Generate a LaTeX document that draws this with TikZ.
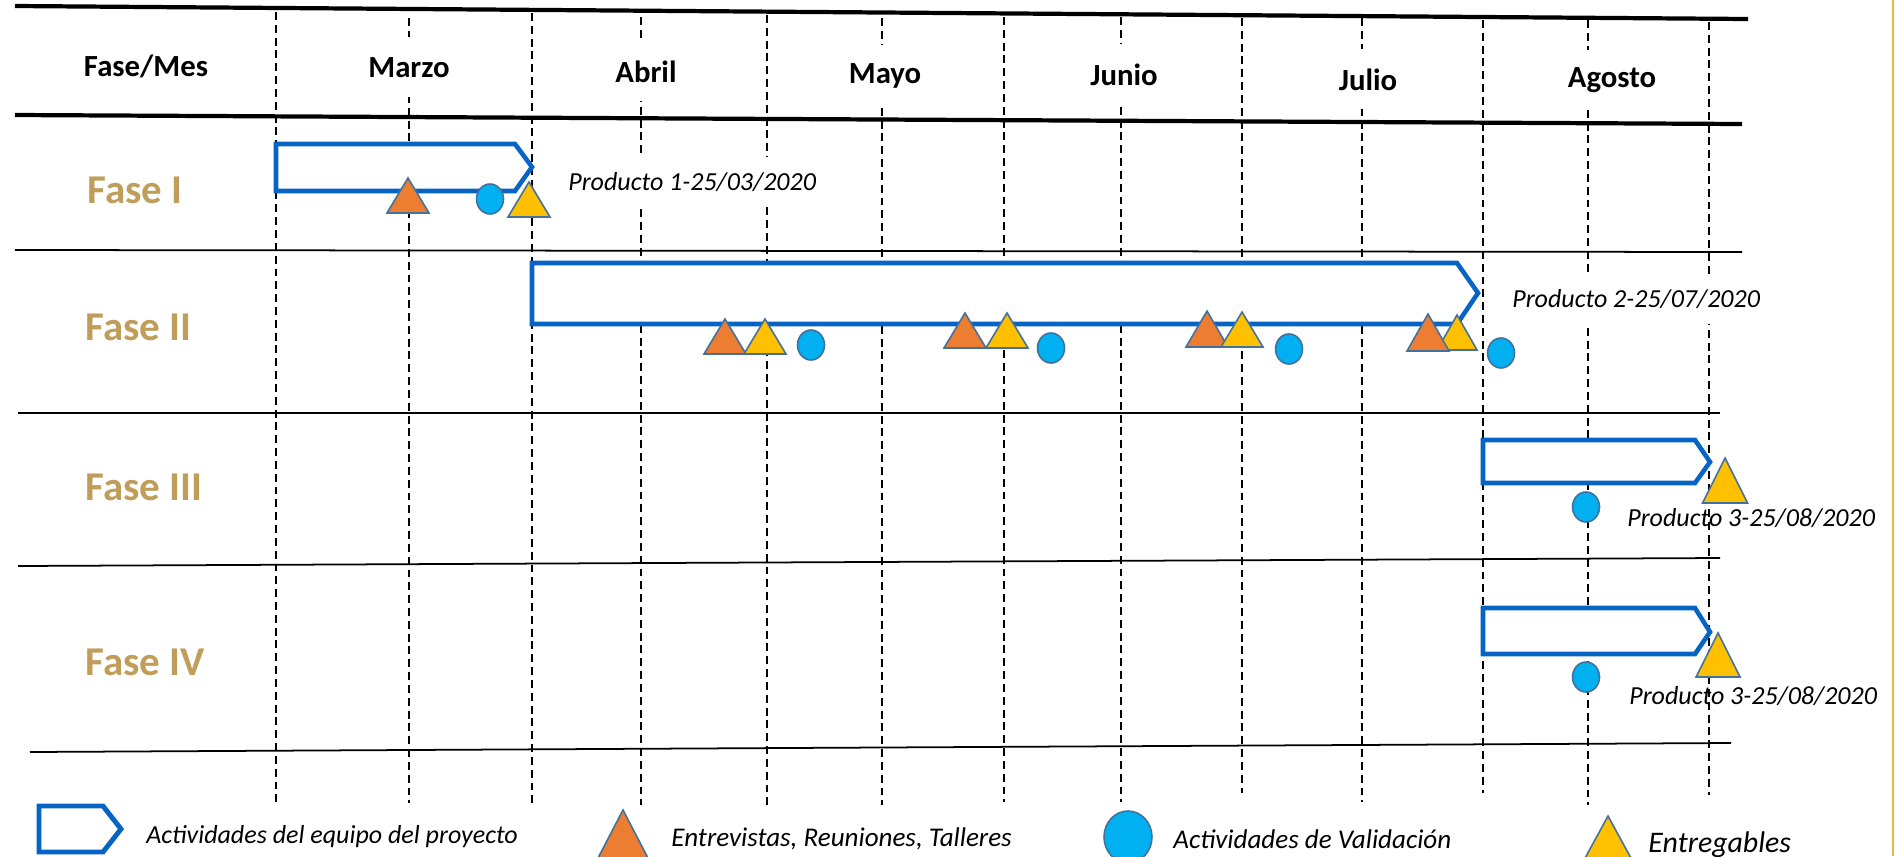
\documentclass[tikz,border=0pt]{standalone}
\usepackage{fontspec}
\setmainfont{Carlito}
\usepackage{tikz}
\usetikzlibrary{positioning}

\definecolor{azul}{RGB}{6,101,196}
\definecolor{naranja}{RGB}{237,125,49}
\definecolor{amarillo}{RGB}{255,192,0}
\definecolor{celeste}{RGB}{0,176,240}
\definecolor{borde}{RGB}{65,113,156}
\definecolor{oro}{RGB}{192,158,90}
\definecolor{marco}{RGB}{242,178,66}

\begin{document}
\begin{tikzpicture}[x=0.02cm, y=-0.02cm,
    grueso/.style={black, line width=2.4pt},
    fino/.style={black, line width=1pt},
    guia/.style={black, line width=0.8pt, dash pattern=on 4.5pt off 2.8pt},
    barra/.style={%
      draw=azul, line width=2.6pt, fill=white, line join=miter
    },
    ent/.style={fill=naranja, draw=borde, line width=0.9pt},
    pro/.style={fill=amarillo, draw=borde, line width=0.9pt},
    val/.style={fill=celeste, draw=borde, line width=0.9pt},
    mes/.style={%
      font=\fontsize{17.5}{20}\selectfont\bfseries, fill=white,
      minimum height=1.2cm, inner xsep=3pt, anchor=base
    },
    fase/.style={%
      font=\fontsize{23.3}{27}\selectfont\bfseries, text=oro,
      inner sep=0pt, anchor=base west
    },
    prod/.style={%
      font=\fontsize{14.8}{17}\selectfont\itshape, inner sep=0pt, anchor=base west
    },
    ley/.style={font=\fontsize{14.8}{17}\selectfont\itshape, inner sep=0pt}
]
    \useasboundingbox (0,0) rectangle (1895,856);
    \fill[white] (0,0) rectangle (1895,856);
    \clip (0,0) rectangle (1895,856);

    % columnas
    \foreach \x/\a/\b in {276/12/805, 409/18/803, 532/13/805, 641/17/805,
        767/15/805, 882/18/805, 1004/17/802, 1121/17/802, 1242/18/793,
        1362/18/802, 1483/20/793, 1588/20/805, 1709/22/795}
      \draw[guia] (\x,\a) -- (\x,\b);

    % filas
    \draw[grueso] (15,6) -- (1748,19);
    \draw[grueso] (15,115) -- (1742,124);
    \draw[fino] (15,250) -- (1742,252);
    \draw[fino] (18,413) -- (1720,413);
    \draw[fino] (18,566) -- (1720,558);
    \draw[fino] (30,752) -- (1731,743);

    \draw[marco, line width=1.2pt] (1893,0) -- (1893,856);

    \node[mes] (m0) at (146,76)  {Fase/Mes};
    \node[mes] (m1) at (409,77)  {Marzo};
    \node[mes] (m2) at (646,82)  {Abril};
    \node[mes] (m3) at (885,83)  {Mayo};
    \node[mes] (m4) at (1124,85) {Junio};
    \node[mes] (m5) at (1368,90) {Julio};
    \node[mes] (m6) at (1612,87) {Agosto};

    \node[fase] (f1) at (87,203) {Fase I};
    \node[fase] (f2) at (85,340) {Fase II};
    \node[fase] (f3) at (85,500) {Fase III};
    \node[fase] (f4) at (85,675) {Fase IV};

    \node[prod, fill=white, inner ysep=4pt, minimum height=1cm] (p1) at (568,190)
      {Producto 1-25/03/2020};
    \node[prod, fill=white, inner ysep=4pt, minimum height=1cm] (p2) at (1512,307)
      {Producto 2-25/07/2020};
    \node[prod] (p3) at (1627,526) {Producto 3-25/08/2020};
    \node[prod] (p4) at (1629,704) {Producto 3-25/08/2020};

    % barras
    \draw[barra] (276,144) -- (515,144) -- (532,167) -- (515,191) -- (276,191) -- cycle;
    \draw[barra] (532,263) -- (1457,263) -- (1478,293) -- (1457,324) -- (532,324) -- cycle;
    \draw[barra] (1483,440) -- (1695,440) -- (1710,462) -- (1695,483) -- (1483,483) -- cycle;
    \draw[barra] (1483,608) -- (1695,608) -- (1710,632) -- (1695,654) -- (1483,654) -- cycle;

    % hitos
    \foreach \x/\y/\w/\h in {408/178/42/35, 725/319/42/35, 965/313/42/35,
        1207/311/42/36}
      \filldraw[ent] (\x,\y) -- ++(\w/2,\h) -- ++(-\w,0) -- cycle;
    \foreach \x/\y/\w/\h in {529/182/42/35, 765/319/42/35, 1007/313/42/35,
        1242/312/42/35, 1457/315/40/35, 1725/458/45/45, 1718/633/44/44}
      \filldraw[pro] (\x,\y) -- ++(\w/2,\h) -- ++(-\w,0) -- cycle;
    \filldraw[ent] (1428,314) -- ++(21,37) -- ++(-42,0) -- cycle;
    \foreach \x/\y in {490/199, 811/345, 1051/348, 1289/349, 1501/353,
        1586/507, 1586/677}
      \filldraw[val] (\x,\y) ellipse [x radius=13.5, y radius=15];

    % leyenda
    \draw[barra, line width=2.8pt] (39,806) -- (103,806) -- (121,829) -- (103,852) -- (39,852) -- cycle;
    \filldraw[ent] (623,810) -- ++(25,48) -- ++(-50,0) -- cycle;
    \filldraw[val] (1128,837) ellipse [x radius=24, y radius=26];
    \filldraw[pro] (1608,816) -- ++(24,44) -- ++(-48,0) -- cycle;

    \coordinate (l1) at (121,843);
    \coordinate (l2) at (648,846);
    \coordinate (l3) at (1150,848);
    \coordinate (l4) at (1625,852);
    \node[ley, right=0.5cm of l1, anchor=base west] (t1) {Actividades del equipo del proyecto};
    \node[ley, right=0.46cm of l2, anchor=base west, font=\fontsize{15.4}{18}\selectfont\itshape] (t2)
      {Entrevistas, Reuniones, Talleres};
    \node[ley, right=0.46cm of l3, anchor=base west, font=\fontsize{15.4}{18}\selectfont\itshape] (t3)
      {Actividades de Validación};
    \node[ley, right=0.46cm of l4, anchor=base west, font=\fontsize{17}{20}\selectfont\itshape] (t4)
      {Entregables};
\end{tikzpicture}
\end{document}
